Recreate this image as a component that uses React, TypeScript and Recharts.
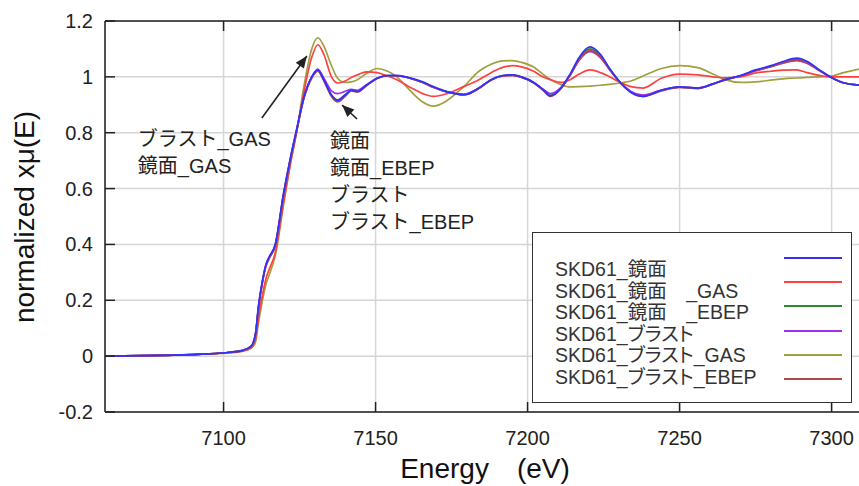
import React from 'react';
import { LineChart, Line, XAxis, YAxis, CartesianGrid, ReferenceLine } from 'recharts';

// energy grid (eV)
const energy = [
  7061, 7080, 7095, 7102, 7106, 7109, 7110.5, 7111.5, 7112.8, 7114, 7115, 7117, 7119.7, 7122, 7124,
  7126.5, 7129, 7131, 7133, 7135.5, 7137.5, 7140, 7142, 7144, 7147, 7150.5, 7154, 7157, 7161, 7165.5,
  7169, 7173.5, 7179, 7184, 7188, 7192, 7195, 7198, 7202, 7205, 7207.5, 7211, 7214, 7217, 7220.5,
  7224, 7227, 7230.5, 7234, 7238, 7244, 7250, 7256, 7261, 7265, 7270, 7275, 7280, 7284, 7288.5,
  7292, 7296, 7299.5, 7304, 7310,
];

const mirror = [
  0, 0.003, 0.008, 0.014, 0.02, 0.035, 0.08, 0.18, 0.27, 0.33, 0.355, 0.4, 0.58, 0.71, 0.81,
  0.93, 1.0, 1.025, 0.99, 0.935, 0.915, 0.935, 0.952, 0.948, 0.97, 0.995, 1.005, 1.005, 0.997, 0.982,
  0.965, 0.947, 0.936, 0.96, 0.99, 1.005, 1.007, 1.0, 0.98, 0.955, 0.932, 0.96, 1.01, 1.07, 1.107,
  1.08, 1.03, 0.98, 0.945, 0.93, 0.952, 0.964, 0.96, 0.975, 0.99, 1.005, 1.025, 1.04, 1.055, 1.067,
  1.055, 1.025, 1.0, 0.978, 0.97,
];

const mirrorGas = [
  0, 0.003, 0.008, 0.013, 0.018, 0.03, 0.06, 0.14, 0.22, 0.28, 0.31, 0.37, 0.55, 0.69, 0.8,
  0.95, 1.07, 1.115, 1.08, 1.0, 0.978, 0.985, 0.998, 1.007, 1.018, 1.015, 1.003, 0.99, 0.965, 0.94,
  0.93, 0.94, 0.965, 0.99, 1.015, 1.035, 1.04, 1.036, 1.02, 1.0, 0.99, 0.98, 0.99, 1.01, 1.025,
  1.015, 1.0, 0.98, 0.965, 0.96, 0.995, 1.01, 1.007, 1.0, 0.996, 1.0, 1.014, 1.02, 1.024, 1.025,
  1.015, 1.005, 1.0, 1.0, 1.0,
];

const mirrorEbep = [
  0, 0.003, 0.008, 0.014, 0.02, 0.034, 0.078, 0.175, 0.265, 0.325, 0.35, 0.395, 0.575, 0.705, 0.805,
  0.93, 0.998, 1.022, 0.988, 0.935, 0.918, 0.936, 0.952, 0.948, 0.97, 0.995, 1.004, 1.004, 0.996, 0.98,
  0.963, 0.946, 0.936, 0.96, 0.99, 1.004, 1.006, 0.999, 0.98, 0.955, 0.934, 0.96, 1.008, 1.065, 1.1,
  1.075, 1.028, 0.98, 0.946, 0.932, 0.952, 0.963, 0.96, 0.975, 0.99, 1.004, 1.023, 1.038, 1.052, 1.063,
  1.052, 1.024, 1.0, 0.978, 0.97,
];

const blast = [
  0, 0.003, 0.008, 0.014, 0.02, 0.035, 0.08, 0.18, 0.27, 0.33, 0.355, 0.4, 0.58, 0.71, 0.81,
  0.93, 1.0, 1.028, 0.995, 0.95, 0.94, 0.948, 0.955, 0.952, 0.972, 0.995, 1.004, 1.004, 0.996, 0.98,
  0.963, 0.946, 0.938, 0.96, 0.99, 1.004, 1.006, 0.999, 0.98, 0.957, 0.94, 0.962, 1.006, 1.06, 1.09,
  1.068, 1.025, 0.98, 0.948, 0.935, 0.953, 0.963, 0.96, 0.975, 0.99, 1.004, 1.022, 1.036, 1.049, 1.058,
  1.048, 1.022, 1.0, 0.979, 0.97,
];

const blastGas = [
  0, 0.003, 0.008, 0.012, 0.017, 0.028, 0.05, 0.12, 0.2, 0.26, 0.29, 0.36, 0.54, 0.69, 0.8,
  0.97, 1.1, 1.14, 1.11, 1.04, 0.995, 0.98, 0.982, 0.99, 1.012, 1.03, 1.02, 1.0, 0.955, 0.91,
  0.895, 0.915, 0.965, 1.02, 1.045, 1.057, 1.058, 1.052, 1.035, 1.01, 0.99, 0.972, 0.964, 0.965, 0.967,
  0.97, 0.973, 0.978, 0.985, 1.003, 1.03, 1.04, 1.033, 1.01, 0.99, 0.98, 0.982, 0.988, 0.993, 0.996,
  0.998, 1.0, 1.002, 1.015, 1.03,
];

const blastEbep = [
  0, 0.003, 0.008, 0.014, 0.02, 0.034, 0.078, 0.175, 0.265, 0.325, 0.35, 0.395, 0.575, 0.705, 0.805,
  0.925, 0.995, 1.02, 0.985, 0.93, 0.91, 0.93, 0.95, 0.946, 0.968, 0.994, 1.004, 1.004, 0.996, 0.98,
  0.963, 0.946, 0.935, 0.958, 0.988, 1.003, 1.005, 0.998, 0.978, 0.953, 0.93, 0.958, 1.006, 1.062, 1.095,
  1.07, 1.026, 0.978, 0.944, 0.93, 0.95, 0.962, 0.958, 0.974, 0.989, 1.003, 1.022, 1.036, 1.05, 1.06,
  1.05, 1.023, 1.0, 0.978, 0.97,
];

const xTicks = [7100, 7150, 7200, 7250, 7300];
const yTicks = [-0.2, 0, 0.2, 0.4, 0.6, 0.8, 1, 1.2];

const series = [
  { key: 'blastGas', name: 'SKD61_ブラスト_GAS', color: '#a0a040', values: blastGas },
  { key: 'mirrorGas', name: 'SKD61_鏡面　_GAS', color: '#ff4040', values: mirrorGas },
  { key: 'mirrorEbep', name: 'SKD61_鏡面　_EBEP', color: '#2f8a2f', values: mirrorEbep },
  { key: 'blast', name: 'SKD61_ブラスト', color: '#a030f0', values: blast },
  { key: 'blastEbep', name: 'SKD61_ブラスト_EBEP', color: '#b44848', values: blastEbep },
  { key: 'mirror', name: 'SKD61_鏡面', color: '#3030ff', values: mirror },
];

const legendOrder = ['mirror', 'mirrorGas', 'mirrorEbep', 'blast', 'blastGas', 'blastEbep'];

const data = energy.map((e, i) => {
  const row: Record<string, number> = { e };
  series.forEach((s) => (row[s.key] = s.values[i]));
  return row;
});

const FONT = "'Liberation Sans', Arial, 'Noto Sans CJK JP', sans-serif";
const INK = '#222';

const BottomTick = (props: any) => {
  const { x, y, payload } = props;
  return (
    <g>
      <line x1={x} y1={y} x2={x} y2={y - 10} stroke={INK} strokeWidth={1.5} />
      <text x={x} y={y + 33} textAnchor="middle" fontSize={20} fontFamily={FONT} fill={INK}>
        {payload.value}
      </text>
    </g>
  );
};

const TopTick = (props: any) => {
  const { x, y } = props;
  return <line x1={x} y1={y} x2={x} y2={y + 10} stroke={INK} strokeWidth={1.5} />;
};

const LeftTick = (props: any) => {
  const { x, y, payload } = props;
  return (
    <g>
      <line x1={x} y1={y} x2={x + 10} y2={y} stroke={INK} strokeWidth={1.5} />
      <text x={x - 12} y={y + 7} textAnchor="end" fontSize={20} fontFamily={FONT} fill={INK}>
        {payload.value}
      </text>
    </g>
  );
};

const RightTick = (props: any) => {
  const { x, y } = props;
  return <line x1={x} y1={y} x2={x - 10} y2={y} stroke={INK} strokeWidth={1.5} />;
};

const arrowShape = (lines: string[], dx: number, dy: number) => (props: any) => {
  const { x1, y1, x2, y2 } = props;
  const ang = Math.atan2(y2 - y1, x2 - x1);
  const len = 13;
  const w = 0.4;
  const p1 = [x2 - len * Math.cos(ang - w), y2 - len * Math.sin(ang - w)];
  const p2 = [x2 - len * Math.cos(ang + w), y2 - len * Math.sin(ang + w)];
  return (
    <g>
      <line x1={x1} y1={y1} x2={x2} y2={y2} stroke={INK} strokeWidth={1.6} />
      <polygon points={`${x2},${y2} ${p1[0]},${p1[1]} ${p2[0]},${p2[1]}`} fill={INK} />
      {lines.map((t, i) => (
        <text key={t} x={x1 + dx} y={y1 + dy + i * 27} fontSize={20} fontFamily={FONT} fill={INK}>
          {t}
        </text>
      ))}
    </g>
  );
};

const Legend = () => (
  <div
    style={{
      position: 'absolute',
      left: 532,
      top: 232,
      width: 318,
      height: 169,
      border: '1.5px solid #333',
      background: '#fff',
      fontFamily: FONT,
      color: '#333',
    }}
  >
    {legendOrder.map((k, i) => {
      const s = series.find((v) => v.key === k)!;
      return (
        <React.Fragment key={k}>
          <div
            style={{
              position: 'absolute',
              left: 22,
              top: 25 + i * 21.5,
              fontSize: 19.5,
              lineHeight: '22px',
              whiteSpace: 'nowrap',
              fontFeatureSettings: '"palt"',
            }}
          >
            {s.name}
          </div>
          <div
            style={{
              position: 'absolute',
              left: 251,
              top: 24 + i * 24.2,
              width: 58,
              height: 2,
              background: s.color,
            }}
          />
        </React.Fragment>
      );
    })}
  </div>
);

export default function App() {
  return (
    <div style={{ position: 'absolute', left: 0, top: 0, width: 859, height: 486, overflow: 'hidden', background: '#fff' }}>
      <LineChart width={880} height={486} data={data} margin={{ top: 20, right: 17, bottom: 73, left: 104 }}>
        <CartesianGrid stroke="#d6d6d6" strokeWidth={1.5} />
        <XAxis
          dataKey="e"
          type="number"
          domain={[7061, 7310]}
          ticks={xTicks}
          height={1}
          tickSize={0}
          tickMargin={0}
          tickLine={false}
          axisLine={{ stroke: INK, strokeWidth: 1.5 }}
          tick={<BottomTick />}
          allowDataOverflow
        />
        <XAxis
          xAxisId="top"
          orientation="top"
          dataKey="e"
          type="number"
          domain={[7061, 7310]}
          ticks={xTicks}
          height={1}
          tickSize={0}
          tickMargin={0}
          tickLine={false}
          axisLine={{ stroke: INK, strokeWidth: 1.5 }}
          tick={<TopTick />}
        />
        <YAxis
          type="number"
          domain={[-0.2, 1.2]}
          ticks={yTicks}
          width={1}
          tickSize={0}
          tickMargin={0}
          tickLine={false}
          axisLine={{ stroke: INK, strokeWidth: 1.5 }}
          tick={<LeftTick />}
          allowDataOverflow
        />
        <YAxis
          yAxisId="right"
          orientation="right"
          type="number"
          domain={[-0.2, 1.2]}
          ticks={yTicks}
          width={1}
          tickSize={0}
          tickMargin={0}
          tickLine={false}
          axisLine={{ stroke: INK, strokeWidth: 1.5 }}
          tick={<RightTick />}
        />
        {series.map((s) => (
          <Line
            key={s.key}
            dataKey={s.key}
            type="monotone"
            stroke={s.color}
            strokeWidth={1.7}
            dot={false}
            isAnimationActive={false}
          />
        ))}
        <ReferenceLine
          segment={[{ x: 7112.6, y: 0.853 }, { x: 7127.4, y: 1.075 }]}
          shape={arrowShape(['ブラスト_GAS', '鏡面_GAS'], -124, 28)}
          ifOverflow="visible"
        />
        <ReferenceLine
          segment={[{ x: 7143.9, y: 0.849 }, { x: 7139.0, y: 0.899 }]}
          shape={arrowShape(['鏡面', '鏡面_EBEP', 'ブラスト', 'ブラスト_EBEP'], -27, 29)}
          ifOverflow="visible"
        />
      </LineChart>
      <Legend />
      <div
        style={{
          position: 'absolute',
          left: 25,
          top: 217,
          transform: 'translate(-50%, -50%) rotate(-90deg)',
          fontSize: 28,
          fontFamily: FONT,
          color: '#111',
          whiteSpace: 'nowrap',
          lineHeight: 1,
        }}
      >
        normalized xμ(E)
      </div>
      <div
        style={{
          position: 'absolute',
          left: 485,
          top: 469,
          transform: 'translate(-50%, -50%)',
          fontSize: 28,
          fontFamily: FONT,
          color: '#111',
          whiteSpace: 'nowrap',
          lineHeight: 1,
        }}
      >
        Energy　(eV)
      </div>
    </div>
  );
}
